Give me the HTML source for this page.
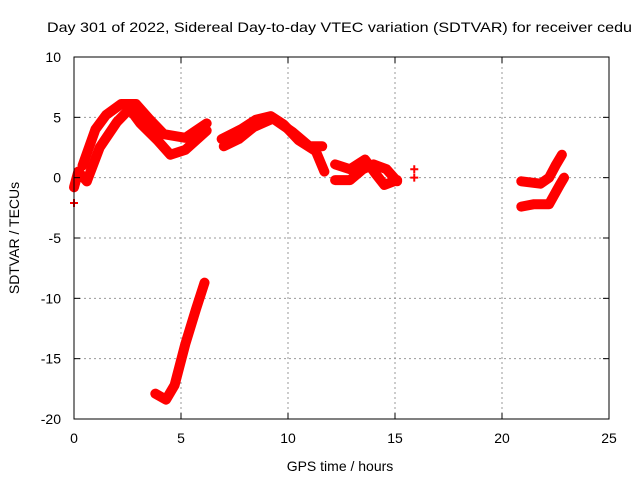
<!DOCTYPE html>
<html><head><meta charset="utf-8"><style>
body{margin:0;background:#fff}
svg{display:block;font-family:"Liberation Sans",sans-serif;font-size:14px}
</style></head><body>
<svg id="c" width="640" height="480">
<text x="47" y="32" textLength="585" lengthAdjust="spacingAndGlyphs">Day 301 of 2022, Sidereal Day-to-day VTEC variation (SDTVAR) for receiver cedu</text>
<text x="340" y="471" text-anchor="middle">GPS time / hours</text>
<text transform="translate(19,238) rotate(-90)" text-anchor="middle">SDTVAR / TECUs</text>
<g id="grid"></g><g id="marks"></g>
<rect x="74" y="57" width="535" height="362" fill="none" stroke="#000"/>
<g id="ticks"></g>
</svg>
<script>
const xTicks=[0,5,10,15,20,25];
const yTicks=[10,5,0,-5,-10,-15,-20];
const trackA_t=[0.4,1.0,1.5,2.2,2.9,3.5,4.2,5.2,6.2];
const trackA_v=[1.0,4.0,5.2,6.1,6.1,4.9,3.6,3.3,4.5];
const trackB_t=[0.6,1.2,2.0,2.6,3.1,3.9,4.5,5.2,6.2];
const trackB_v=[-0.3,2.5,4.6,5.7,4.5,3.1,1.9,2.3,3.9];
const trackC_t=[6.9,7.8,8.5,9.2,9.8,10.5,11.3,11.7];
const trackC_v=[3.2,4.0,4.8,5.1,4.4,3.1,2.2,0.5];
const trackD_t=[7.0,7.7,8.4,9.3,10.2,11.0,11.6];
const trackD_v=[2.6,3.2,4.2,4.9,3.8,2.6,2.6];
const trackE_t=[12.2,12.9,13.6,14.1,14.5,15.1];
const trackE_v=[1.1,0.7,1.5,0.3,-0.6,-0.2];
const trackF_t=[12.2,12.9,13.5,14.0,14.6,15.1];
const trackF_v=[-0.2,-0.2,0.7,1.1,0.7,-0.3];
const trackG_t=[15.9,15.9];
const trackG_v=[0.7,0.0];
const trackH_t=[3.8,4.3,4.7,5.2,5.7,6.1];
const trackH_v=[-17.9,-18.4,-17.2,-13.8,-10.9,-8.7];
const trackI_t=[20.9,21.8,22.2,22.5,22.8];
const trackI_v=[-0.3,-0.5,0.0,1.0,1.9];
const trackJ_t=[20.9,21.5,22.2,22.7,22.9];
const trackJ_v=[-2.4,-2.2,-2.2,-0.6,0.0];
const trackK_t=[0.0,0.2,0.6];
const trackK_v=[-0.8,0.5,-0.3];
const trackL_t=[0.0];
const trackL_v=[-2.1];
const X=t=>74+t*535/25, Y=v=>57+(10-v)*362/30;
const NS="http://www.w3.org/2000/svg";
const grid=document.getElementById('grid'),ticks=document.getElementById('ticks'),marks=document.getElementById('marks');
function mk(tag,a,p){const e=document.createElementNS(NS,tag);for(const k in a)e.setAttribute(k,a[k]);p.appendChild(e);return e;}
xTicks.forEach(t=>{const x=X(t);
 if(t>0&&t<25){const g=mk('line',{x1:x,x2:x,y1:57,y2:419,stroke:'#999','stroke-dasharray':'2,3'},grid);
 
 }
 mk('line',{x1:x,x2:x,y1:419,y2:413,stroke:'#000'},ticks);mk('line',{x1:x,x2:x,y1:57,y2:63,stroke:'#000'},ticks);
 const l=mk('text',{x:x,y:443,'text-anchor':'middle'},ticks);l.textContent=t;
 
 });
yTicks.forEach(v=>{const y=Y(v);
 if(v<10&&v>-20){const g=mk('line',{x1:74,x2:609,y1:y,y2:y,stroke:'#999','stroke-dasharray':'2,3'},grid);
 
 }
 mk('line',{x1:74,x2:80,y1:y,y2:y,stroke:'#000'},ticks);mk('line',{x1:609,x2:603,y1:y,y2:y,stroke:'#000'},ticks);
 const l=mk('text',{x:61,y:y+5,'text-anchor':'end'},ticks);l.textContent=v;
 
 });
const tracks=[[trackA_t,trackA_v,1],[trackB_t,trackB_v,1],[trackC_t,trackC_v,1],[trackD_t,trackD_v,1],[trackE_t,trackE_v,1],[trackF_t,trackF_v,1],[trackG_t,trackG_v,0],[trackH_t,trackH_v,1],[trackI_t,trackI_v,1],[trackJ_t,trackJ_v,1],[trackK_t,trackK_v,1],[trackL_t,trackL_v,0]];
tracks.forEach(([ts,vs,line])=>{
 if(line&&ts.length>1){const p=mk('polyline',{points:ts.map((t,i)=>X(t)+','+Y(vs[i])).join(' '),fill:'none',stroke:'#f00','stroke-width':10,'stroke-linejoin':'round','stroke-linecap':'round'},marks);
 
 }
 ts.forEach((t,i)=>{const x=X(t),y=Y(vs[i]);
  const m=mk('path',{d:`M${x-4},${y}H${x+4}M${x},${y-4}V${y+4}`,stroke:'#f00','stroke-width':2},marks);
  
  });
});
</script>
</body></html>
